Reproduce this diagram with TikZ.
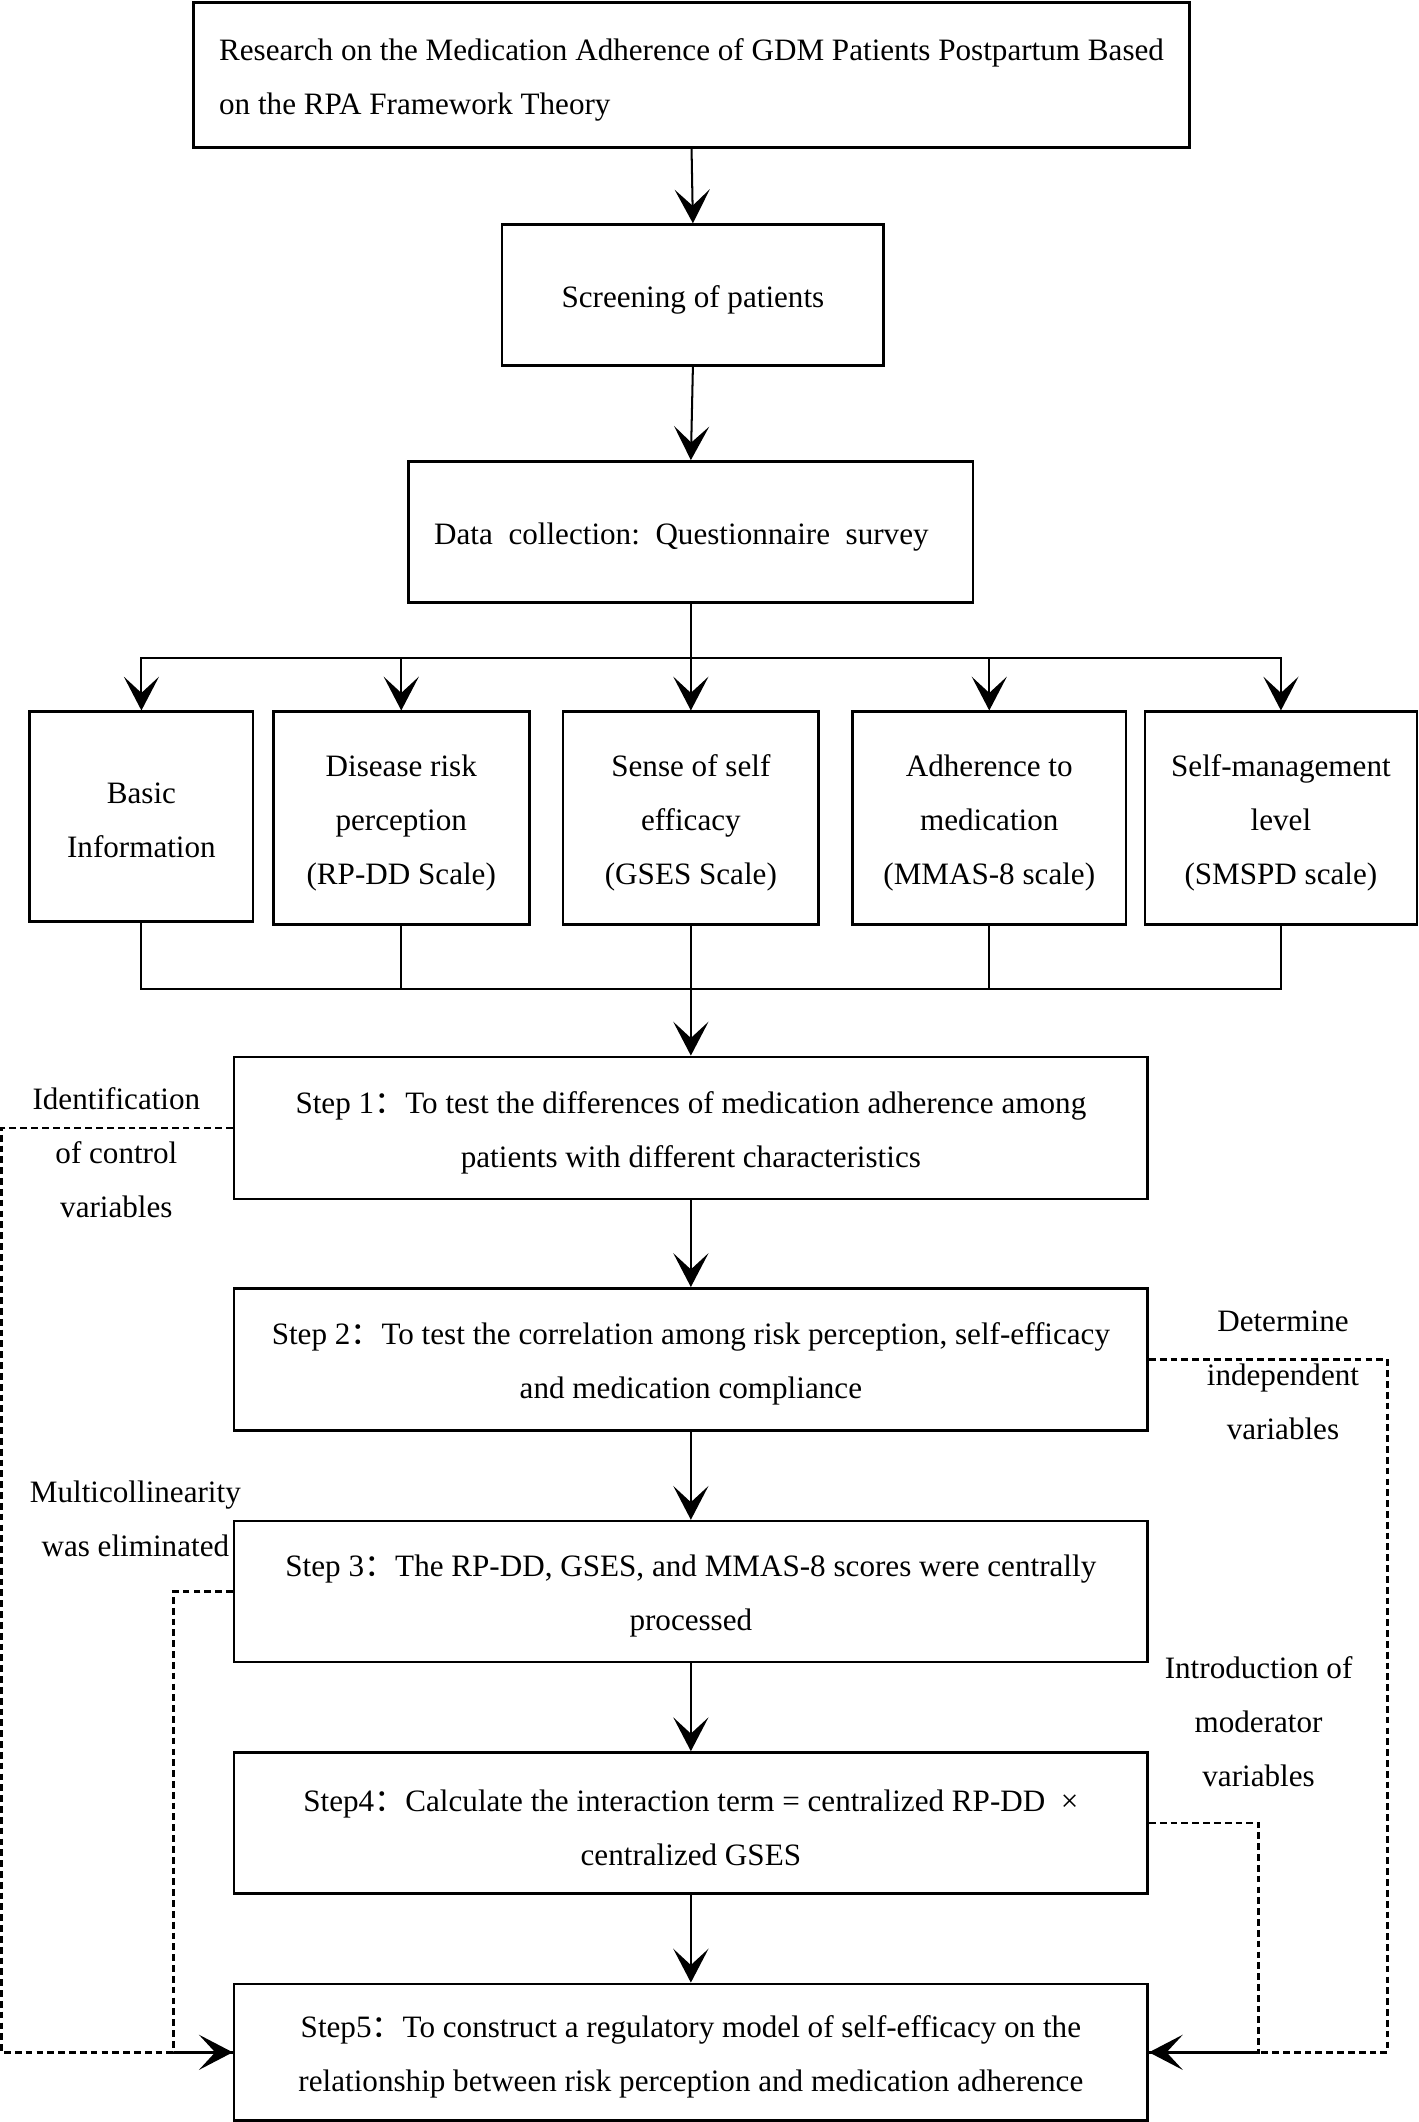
\documentclass[tikz,border=0pt]{standalone}
\usepackage{fontspec}
\setmainfont{Liberation Serif}
\newfontfamily\cjk{Noto Sans CJK SC}
\usetikzlibrary{arrows.meta}
\newcommand{\fc}{\smash{\cjk ：}}
\newcommand{\tp}{\rule{0pt}{11.5pt}}
\begin{document}
\begin{tikzpicture}[x=0.5pt,y=-0.5pt,
  box/.style={draw,line width=1pt,inner sep=0pt,align=center,font=\fontsize{11.5}{20}\selectfont},
  conn/.style={line width=0.75pt},
  arr/.style={conn,-{Stealth[length=12.5pt,width=13pt,inset=6pt]}},
  dsh/.style={line width=1pt,dash pattern=on 2.5pt off 1.5pt},
  darr/.style={dsh,-{Stealth[length=12.5pt,width=13pt,inset=6pt]}},
  lab/.style={align=center,inner sep=0pt,font=\fontsize{11.5}{20}\selectfont}]
\useasboundingbox (0,0) rectangle (1048,1568);
% top boxes
\node[box,align=left,minimum width=368pt,minimum height=53.5pt] (title) at (511,55.5)
  {\tp Research on the Medication Adherence of GDM Patients Postpartum Based\\on the RPA Framework Theory};
\node[box,minimum width=141pt,minimum height=52pt] (screen) at (512,218) {\tp Screening of patients};
\node[box,minimum width=208.5pt,minimum height=52pt] (data) at (510.5,393)
  {\tp Data\ \ collection:\ \ Questionnaire\ \ survey\hspace{7pt}};
% five boxes
\node[box,minimum width=82.5pt,minimum height=77.5pt] (basic) at (104.5,603.5) {\rule{0pt}{10pt}Basic\\Information};
\node[box,minimum width=94.5pt,minimum height=78.5pt] (risk) at (296.5,604.5) {\tp Disease risk\\perception\\(RP-DD Scale)};
\node[box,minimum width=94.5pt,minimum height=78.5pt] (self) at (510.5,604.5) {\tp Sense of self\\efficacy\\(GSES Scale)};
\node[box,minimum width=101pt,minimum height=78.5pt] (adh) at (731,604.5) {\tp Adherence to\\medication\\(MMAS-8 scale)};
\node[box,minimum width=100.5pt,minimum height=78.5pt] (smg) at (946.5,604.5) {\tp Self-management\\level\\(SMSPD scale)};
% steps
\node[box,minimum width=337.5pt,minimum height=52.5pt] (s1) at (510.5,833.5)
  {\tp Step 1\fc To test the differences of medication adherence among\\patients with different characteristics};
\node[box,minimum width=337.5pt,minimum height=52.5pt] (s2) at (510.5,1004.5)
  {\tp Step 2\fc To test the correlation among risk perception, self-efficacy\\and medication compliance};
\node[box,minimum width=337.5pt,minimum height=52pt] (s3) at (510.5,1176)
  {\tp Step 3\fc The RP-DD, GSES, and MMAS-8 scores were centrally\\processed};
\node[box,minimum width=337.5pt,minimum height=52pt] (s4) at (510.5,1347)
  {\tp Step4\fc Calculate the interaction term = centralized RP-DD\ \ ×\\centralized GSES};
\node[box,minimum width=337.5pt,minimum height=50.5pt] (s5) at (510.5,1516.5)
  {\tp Step5\fc To construct a regulatory model of self-efficacy on the\\relationship between risk perception and medication adherence};
% labels
\node[lab] (l1) at (86,852) {Identification\\of control\\variables};
\node[lab] (l2) at (948,1016) {Determine\\independent\\variables};
\node[lab] (l3) at (100,1122) {Multicollinearity\\was eliminated};
\node[lab] (l4) at (930,1272) {Introduction of\\moderator\\variables};
% coordinates
\coordinate (split) at (511,486);
\coordinate (join) at (511,731);
\coordinate (lc1) at (1,833.5);
\coordinate (lc3) at (128,1176);
\coordinate (rc2) at (1025,1004.5);
\coordinate (rc4) at (930,1347);
% connectors
\draw[arr] (title.south) -- (screen.north);
\draw[arr] (screen.south) -- (data.north);
\draw[arr] (data.south) -- (self.north);
\draw[arr] (split) -| (basic.north);
\draw[arr] (split) -| (risk.north);
\draw[arr] (split) -| (adh.north);
\draw[arr] (split) -| (smg.north);
\draw[conn] (basic.south) |- (join);
\draw[conn] (risk.south) |- (join);
\draw[conn] (adh.south) |- (join);
\draw[conn] (smg.south) |- (join);
\draw[arr] (self.south) -- (s1.north);
\draw[arr] (s1.south) -- (s2.north);
\draw[arr] (s2.south) -- (s3.north);
\draw[arr] (s3.south) -- (s4.north);
\draw[arr] (s4.south) -- (s5.north);
% dashed feedback
\draw[darr] (s1.west) -- (lc1) |- (s5.west);
\draw[dsh] (s3.west) -- (lc3) |- (s5.west);
\draw[darr] (s2.east) -- (rc2) |- (s5.east);
\draw[dsh] (s4.east) -- (rc4) |- (s5.east);
\end{tikzpicture}
\end{document}
